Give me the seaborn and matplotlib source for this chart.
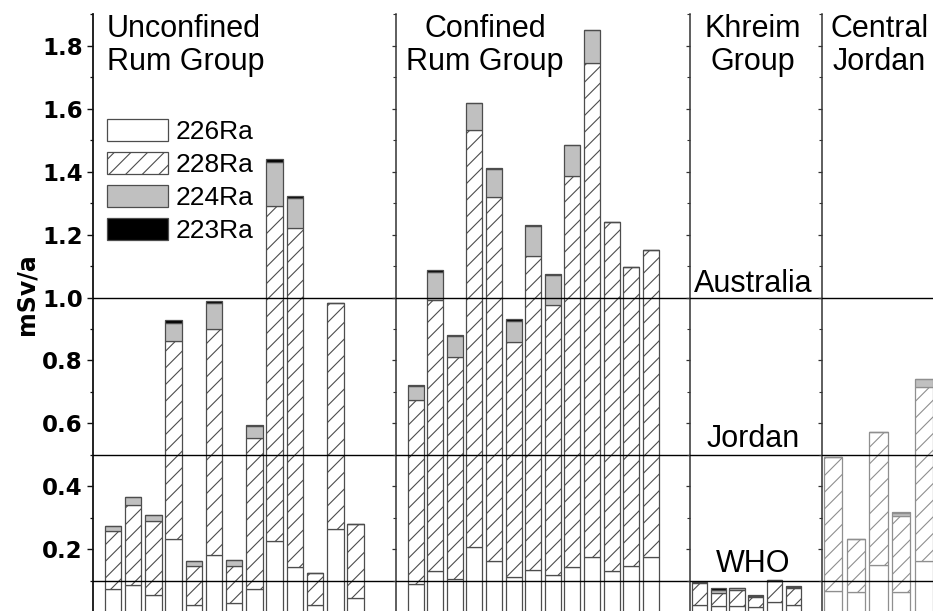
import numpy as np
import matplotlib
matplotlib.use("Agg")
import matplotlib.pyplot as plt
from matplotlib.patches import Patch
import seaborn as sns

# Annual effective dose (mSv/a) per well, split by radium isotope
unconfined_names = [f"U{i}" for i in range(1, 14)]
unconfined_226 = [0.073, 0.085, 0.054, 0.232, 0.023, 0.181, 0.028, 0.073, 0.227, 0.143, 0.023, 0.263, 0.044]
unconfined_228 = [0.186, 0.257, 0.235, 0.629, 0.125, 0.718, 0.120, 0.481, 1.065, 1.077, 0.101, 0.720, 0.235]
unconfined_224 = [0.016, 0.025, 0.019, 0.059, 0.015, 0.083, 0.018, 0.038, 0.138, 0.097, 0.0, 0.0, 0.0]
unconfined_223 = [0.0, 0.0, 0.0, 0.009, 0.0, 0.008, 0.0, 0.004, 0.011, 0.006, 0.0, 0.0, 0.0]

confined_names = [f"C{i}" for i in range(1, 14)]
confined_226 = [0.090, 0.130, 0.105, 0.206, 0.164, 0.111, 0.134, 0.117, 0.145, 0.174, 0.130, 0.147, 0.174]
confined_228 = [0.584, 0.862, 0.707, 1.327, 1.156, 0.748, 0.998, 0.860, 1.242, 1.570, 1.109, 0.951, 0.977]
confined_224 = [0.045, 0.090, 0.066, 0.085, 0.087, 0.067, 0.095, 0.093, 0.099, 0.106, 0.0, 0.0, 0.0]
confined_223 = [0.004, 0.006, 0.004, 0.0, 0.004, 0.005, 0.004, 0.004, 0.0, 0.0, 0.0, 0.0, 0.0]

khreim_names = [f"K{i}" for i in range(1, 7)]
khreim_226 = [0.022, 0.020, 0.020, 0.015, 0.032, 0.022]
khreim_228 = [0.070, 0.040, 0.052, 0.032, 0.068, 0.056]
khreim_224 = [0.003, 0.012, 0.004, 0.006, 0.001, 0.003]
khreim_223 = [0.002, 0.004, 0.002, 0.003, 0.002, 0.002]

central_names = [f"J{i}" for i in range(1, 6)]
central_226 = [0.067, 0.064, 0.149, 0.064, 0.162]
central_228 = [0.427, 0.170, 0.425, 0.242, 0.555]
central_224 = [0.0, 0.0, 0.0, 0.008, 0.023]
central_223 = [0.0, 0.0, 0.0, 0.004, 0.0]

# Dose guideline levels (mSv/a)
limit_values = [1.0, 0.5, 0.1]
limit_labels = ["Australia", "Jordan", "WHO"]

isotopes = ["226Ra", "228Ra", "224Ra", "223Ra"]

sns.set_theme(style="ticks")
plt.rcParams["font.family"] = ["Liberation Sans", "DejaVu Sans"]
plt.rcParams["hatch.linewidth"] = 0.8
plt.rcParams["text.color"] = "black"

GRAY = "#c0c0c0"
EDGE = "#4d4d4d"
LIGHT_EDGE = "#8f8f8f"
TICK_FONT = dict(family="DejaVu Sans", weight="bold", size=16.5, color="black")
TITLE_SIZE = 22

W, H = 933, 611
Y_TOP, Y_ZERO = 14.3, 612.2


def rect(x0, x1):
    return [x0 / W, (H - Y_ZERO) / H, (x1 - x0) / W, (Y_ZERO - Y_TOP) / H]


def draw_stack(ax, names, r226, r228, r224, r223, edge):
    base = np.zeros(len(names))
    styles = [("white", None), ("white", "//"), (GRAY, None), ("black", None)]
    for vals, (face, hatch) in zip([r226, r228, r224, r223], styles):
        vals = np.asarray(vals, dtype=float)
        sns.barplot(x=names, y=vals, order=names, bottom=base.copy(), color=face,
                    saturation=1, width=0.81, errorbar=None, edgecolor=edge,
                    linewidth=0.9, hatch=hatch, ax=ax)
        base = base + vals


panels = [
    dict(title="Unconfined\nRum Group", names=unconfined_names,
         data=(unconfined_226, unconfined_228, unconfined_224, unconfined_223),
         px=(92.7, 396.0), xlim=(-1, 14), edge=EDGE, tx=0.047, ha="left"),
    dict(title="Confined\nRum Group", names=confined_names,
         data=(confined_226, confined_228, confined_224, confined_223),
         px=(396.0, 690.0), xlim=(-1, 14), edge=EDGE, tx=0.303, ha="center"),
    dict(title="Khreim\nGroup", names=khreim_names,
         data=(khreim_226, khreim_228, khreim_224, khreim_223),
         px=(690.0, 821.7), xlim=(-0.5, 6.5), edge=EDGE, tx=0.474, ha="center"),
    dict(title="Central\nJordan", names=central_names,
         data=(central_226, central_228, central_224, central_223),
         px=(821.7, 933.0), xlim=(-0.5, 4.4), edge=LIGHT_EDGE, tx=0.52, ha="center"),
]

fig = plt.figure(figsize=(9.33, 6.11), dpi=100)
axes = []
for i, p in enumerate(panels):
    ax = fig.add_axes(rect(*p["px"]))
    ax.set_facecolor("white")
    draw_stack(ax, p["names"], *p["data"], edge=p["edge"])
    ax.set_xlim(*p["xlim"])
    ax.set_ylim(0, 1.9)
    ax.set_xticks([])
    ax.set_xlabel("")
    ax.set_ylabel("")
    for s in ("top", "right", "bottom"):
        ax.spines[s].set_visible(False)
    ax.spines["left"].set_linewidth(1.3 if i == 0 else 1.1)
    ax.spines["left"].set_color("#111111" if i == 0 else "#333333")
    ax.set_yticks(np.arange(0.2, 1.81, 0.2))
    ax.set_yticks(np.arange(0.1, 1.91, 0.2), minor=True)
    if i == 0:
        ax.tick_params(axis="y", which="major", direction="out", length=4.3, width=1.0, pad=2.8,
                       color="#111111", labelcolor="black")
        ax.tick_params(axis="y", which="minor", direction="out", length=2.4, width=0.9,
                       color="#111111")
        ax.set_yticklabels([f"{v:.1f}" for v in np.arange(0.2, 1.81, 0.2)], **TICK_FONT)
    else:
        ax.tick_params(axis="y", which="major", direction="out", length=3.1, width=0.9,
                       labelleft=False, color="#333333")
        ax.tick_params(axis="y", which="minor", direction="out", length=2.0, width=0.8,
                       color="#333333")
    for v in limit_values:
        ax.axhline(v, color="black", lw=1.0, zorder=6)
    ax.text(p["tx"], (Y_ZERO - 14.0) / (Y_ZERO - Y_TOP), p["title"], transform=ax.transAxes,
            ha=p["ha"], va="top", fontsize=TITLE_SIZE, color="black", linespacing=1.15,
            zorder=7)
    axes.append(ax)

# Guideline labels sit in the Khreim panel just above each line
label_offsets = [0.0175, 0.025, 0.027]
for v, lab, off in zip(limit_values, limit_labels, label_offsets):
    axes[2].text(0.48, v + off, lab, transform=axes[2].get_yaxis_transform(),
                 ha="center", va="baseline", fontsize=TITLE_SIZE, color="black", zorder=7)

fig.text(26 / W, 1 - 294 / H, "mSv/a", rotation=90, ha="center", va="center",
         **{**TICK_FONT, "size": 17})

handles = [
    Patch(facecolor="white", edgecolor=EDGE, linewidth=0.9),
    Patch(facecolor="white", edgecolor=EDGE, linewidth=0.9, hatch="//"),
    Patch(facecolor=GRAY, edgecolor=EDGE, linewidth=0.9),
    Patch(facecolor="black", edgecolor=EDGE, linewidth=0.9),
]
leg = axes[0].legend(handles, isotopes, loc="upper left",
                     bbox_to_anchor=(0.047, (Y_ZERO - 119) / (Y_ZERO - Y_TOP)),
                     frameon=False, fontsize=19, handlelength=2.3, handleheight=0.9,
                     handletextpad=0.3, labelspacing=0.3, borderpad=0, borderaxespad=0)
for t in leg.get_texts():
    t.set_color("black")

fig.savefig("out.png", dpi=100, facecolor="white")
